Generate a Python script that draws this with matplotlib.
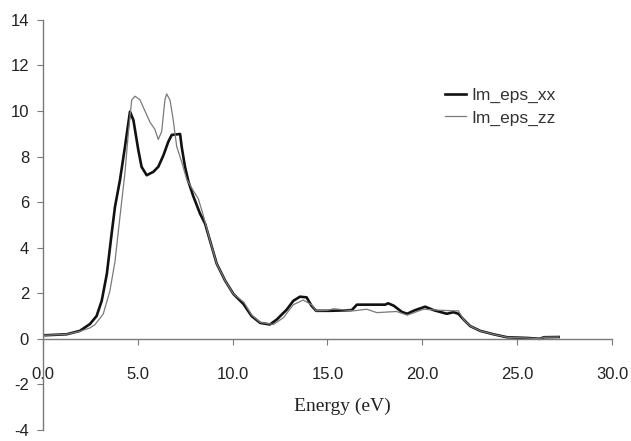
import matplotlib
matplotlib.use("Agg")
from matplotlib import pyplot as plt
from matplotlib.ticker import FormatStrFormatter
import numpy as np

plt.rcParams["axes.unicode_minus"] = False

# Im(eps) xx component
energy_xx = [0.0, 0.2, 1.25, 1.95, 2.48, 2.83, 3.1, 3.37, 3.62, 3.8, 4.06, 4.32, 4.59,
             4.77, 5.03, 5.2, 5.47, 5.82, 6.08, 6.35, 6.61, 6.79, 7.23, 7.32, 7.49, 7.67,
             7.93, 8.28, 8.55, 8.81, 9.16, 9.6, 10.04, 10.57, 11.0, 11.45, 11.97, 12.33,
             12.85, 13.2, 13.55, 13.9, 14.16, 14.4, 15.14, 16.28, 16.55, 18.04, 18.2,
             18.5, 18.92, 19.2, 19.62, 20.15, 20.59, 21.29, 21.64, 21.9, 22.17, 22.52,
             23.05, 23.75, 24.46, 25.5, 26.2, 26.4, 27.18]
im_eps_xx = [0.16, 0.16, 0.2, 0.35, 0.65, 1.0, 1.67, 2.85, 4.6, 5.8, 6.96, 8.4, 9.97,
             9.6, 8.28, 7.55, 7.18, 7.33, 7.55, 8.05, 8.65, 8.95, 8.99, 8.4, 7.55, 6.9,
             6.25, 5.5, 5.05, 4.3, 3.3, 2.56, 1.97, 1.53, 1.0, 0.7, 0.63, 0.85,
             1.28, 1.67, 1.85, 1.82, 1.45, 1.23, 1.23, 1.26, 1.5, 1.5, 1.56,
             1.45, 1.18, 1.1, 1.26, 1.41, 1.26, 1.1, 1.17, 1.1, 0.85, 0.56,
             0.35, 0.2, 0.07, 0.04, 0.0, 0.07, 0.08]

# Im(eps) zz component
energy_zz = [0.0, 0.2, 1.25, 1.95, 2.48, 2.74, 3.18, 3.53, 3.8, 4.06, 4.32, 4.5, 4.68,
             4.85, 5.11, 5.38, 5.65, 5.9, 6.08, 6.26, 6.43, 6.52, 6.7, 6.87, 7.05, 7.32,
             7.58, 7.93, 8.19, 8.46, 8.81, 9.16, 9.6, 10.04, 10.6, 11.0, 11.45, 12.15,
             12.68, 13.2, 13.72, 14.16, 14.4, 15.0, 15.32, 16.38, 17.07, 17.6, 18.65,
             19.2, 20.06, 20.77, 21.64, 21.9, 22.17, 22.52, 23.05, 23.75, 24.46, 25.5,
             26.2, 26.4, 27.18]
im_eps_zz = [0.16, 0.16, 0.2, 0.33, 0.48, 0.62, 1.09, 2.1, 3.4, 5.35, 7.25, 9.0, 10.48,
             10.65, 10.5, 10.0, 9.5, 9.2, 8.75, 9.1, 10.48, 10.75, 10.48, 9.6, 8.45, 7.75,
             7.0, 6.5, 6.15, 5.4, 4.3, 3.3, 2.56, 1.97, 1.6, 1.05, 0.72, 0.63,
             0.93, 1.5, 1.7, 1.5, 1.23, 1.25, 1.32, 1.23, 1.3, 1.15, 1.2,
             1.04, 1.3, 1.26, 1.23, 1.23, 0.85, 0.56, 0.35, 0.2, 0.07, 0.04,
             0.0, 0.07, 0.08]

x_ticks = np.arange(0, 31, 5)
y_ticks = np.arange(-4, 15, 2)

fig = plt.figure(figsize=(6.31, 4.41), dpi=100)
ax = fig.add_axes([0.068, 0.025, 0.902, 0.93])

ax.plot(energy_xx, im_eps_xx, color="#111111", lw=1.9, label="Im_eps_xx")
ax.plot(energy_zz, im_eps_zz, color="#7a7a7a", lw=0.9, label="Im_eps_zz")

ax.set_xlim(0, 30)
ax.set_ylim(-4, 14)
ax.set_xticks(x_ticks)
ax.set_yticks(y_ticks)
ax.xaxis.set_major_formatter(FormatStrFormatter("%.1f"))

ax.spines["top"].set_color("none")
ax.spines["right"].set_color("none")
ax.spines["bottom"].set_position(("data", 0))
for s in ("left", "bottom"):
    ax.spines[s].set_color("#7a7a7a")
    ax.spines[s].set_linewidth(1.0)

ax.tick_params(axis="x", direction="out", length=4, color="#7a7a7a", pad=16,
               labelsize=12, labelcolor="#222222")
ax.tick_params(axis="y", direction="out", length=4, color="#7a7a7a", pad=6,
               labelsize=12, labelcolor="#222222")
for lab in ax.get_xticklabels() + ax.get_yticklabels():
    lab.set_family("Liberation Sans")

fig.text(342 / 631, 1 - 406 / 441, "Energy (eV)", family="Liberation Serif",
         fontsize=14, color="#222222", ha="center", va="center")

leg = ax.legend(loc="upper left", bbox_to_anchor=(0.692, 0.855), frameon=False,
                prop={"family": "Liberation Sans", "size": 12.5}, handlelength=1.2,
                handletextpad=0.3, labelspacing=0.4, borderpad=0)
for t in leg.get_texts():
    t.set_color("#333333")

fig.savefig("out.png", dpi=100)
